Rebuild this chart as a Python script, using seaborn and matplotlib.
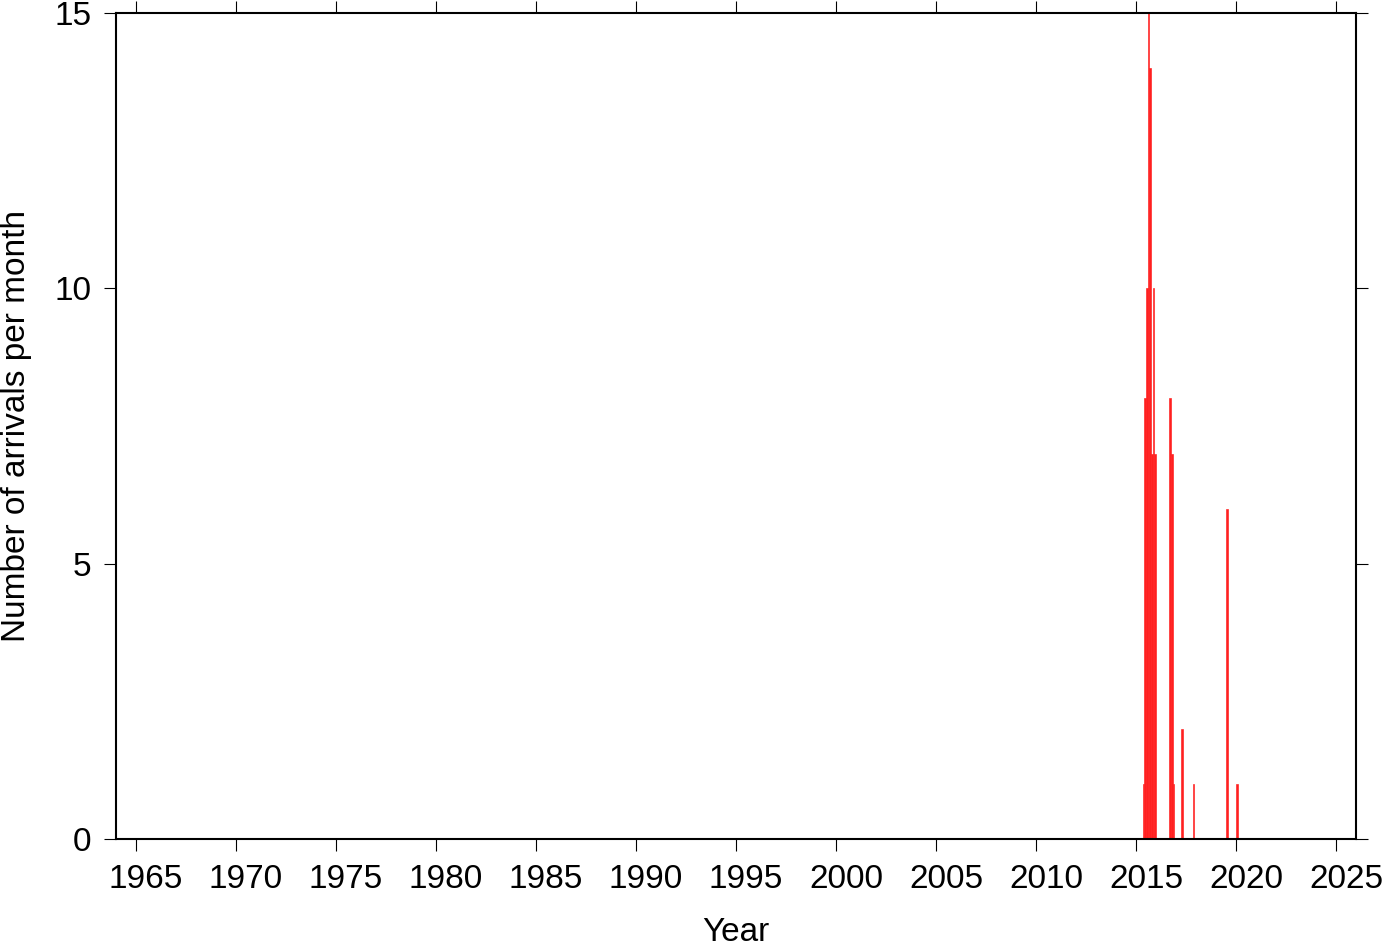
import numpy as np
import pandas as pd
import matplotlib
matplotlib.use("Agg")
import matplotlib.pyplot as plt
import seaborn as sns

# Data: monthly arrival counts
years = [2015, 2015, 2015, 2015, 2015, 2015, 2015, 2015, 2016, 2016, 2016, 2017, 2017, 2019, 2020]
months = [5, 6, 7, 8, 9, 10, 11, 12, 9, 10, 11, 4, 11, 7, 1]
counts = [1, 8, 10, 15, 14, 7, 10, 7, 8, 7, 1, 2, 1, 6, 1]

x_ticks = list(range(1965, 2030, 5))
y_ticks = [0, 5, 10, 15]

sns.set_theme(style="ticks")
plt.rcParams['font.family'] = ['Liberation Sans', 'DejaVu Sans']
plt.rcParams['text.color'] = 'black'
plt.rcParams['axes.labelcolor'] = 'black'

df = pd.DataFrame({"year": years, "month": months, "count": counts})
df["t"] = df["year"] + (df["month"] - 0.5) / 12.0

fig = plt.figure(figsize=(13.82, 9.42), dpi=100)
ax = fig.add_axes([116 / 1382, 1 - 839 / 942, (1356 - 116) / 1382, (839 - 13) / 942])

sns.histplot(data=df, x="t", weights="count", binwidth=1 / 12.0, binrange=(1964, 2026),
             element="bars", color="#ff2020", alpha=1.0, linewidth=0.45,
             edgecolor="#ff2020", ax=ax)

ax.set_xlim(1964, 2026)
ax.set_ylim(0, 15)
# major ticks at year boundaries (no labels), labels centred on the year interval
ax.set_xticks(x_ticks)
ax.set_xticklabels([])
ax.set_xticks([v + 0.5 for v in x_ticks], minor=True)
ax.set_xticklabels([str(v) for v in x_ticks], minor=True)
ax.set_yticks(y_ticks)
ax.set_yticklabels([str(v) for v in y_ticks])

for s in ax.spines.values():
    s.set_visible(True)
    s.set_linewidth(1.5)
    s.set_color("black")
    s.set_zorder(5)

ax.tick_params(axis="both", which="major", direction="out", length=8.6, width=0.8,
               labelsize=24, color="black", labelcolor="black")
ax.tick_params(axis="x", which="major", top=True, labeltop=False, labelbottom=False)
ax.tick_params(axis="x", which="minor", length=0, width=0, labelsize=24,
               labelcolor="black", pad=9.5 + 8.6, top=False, labeltop=False,
               labelbottom=True)
ax.tick_params(axis="y", which="major", pad=9, right=True, labelright=False)
ax.tick_params(axis="y", which="minor", left=False, right=False)

ax.set_xlabel("Year", fontsize=24, labelpad=16)
ax.set_ylabel("Number of arrivals per month", fontsize=24, labelpad=16)
ax.grid(False)

fig.savefig("out.png", dpi=100)
